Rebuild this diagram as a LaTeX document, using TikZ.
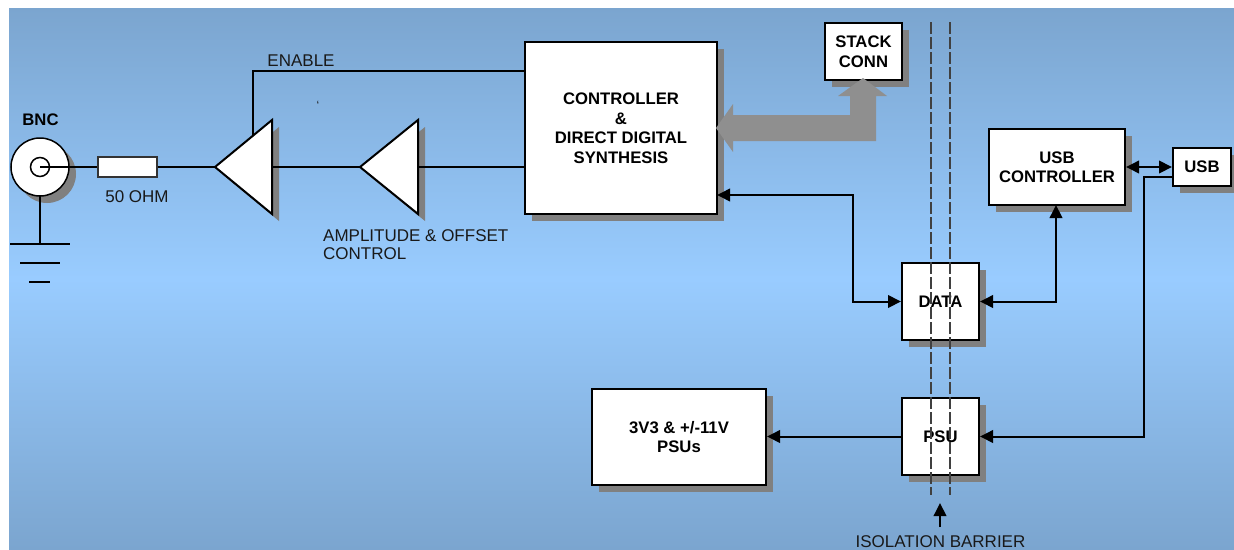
\documentclass[tikz,border=0pt]{standalone}
\usepackage{fontspec}
\setmainfont{Liberation Sans}
\usetikzlibrary{arrows.meta,shadows,calc}
\definecolor{bgedge}{HTML}{7BA5CF}
\definecolor{bgmid}{HTML}{99CCFF}
\definecolor{shadowgrey}{HTML}{808080}
\definecolor{busgrey}{HTML}{8F8F8F}
\tikzset{
  x=1pt,y=-1pt,
  box/.style={draw=black,line width=2pt,fill=white,align=center,inner sep=0pt,
    font=\fontsize{16.7}{19.5}\selectfont\bfseries,
    drop shadow={shadow xshift=7pt,shadow yshift=-7pt,fill=shadowgrey,opacity=1}},
  wire/.style={draw=black,line width=2pt},
  conn/.style={wire,-{Triangle[length=13pt,width=12.5pt]}},
  biconn/.style={wire,{Triangle[length=13pt,width=12.5pt]}-{Triangle[length=13pt,width=12.5pt]}},
  amp/.style={draw=black,line width=2pt,fill=white,line join=miter},
  ampshadow/.style={fill=shadowgrey,draw=none},
  lbl/.style={font=\fontsize{17}{18}\selectfont,inner sep=0pt,text=black!90},
  blbl/.style={font=\fontsize{16.7}{18}\selectfont\bfseries,inner sep=0pt},
  barrier/.style={draw=black!75,line width=1.2pt,dash pattern=on 12pt off 3pt},
  bus/.style={fill=busgrey,draw=none},
  gnd/.style={draw=black,line width=2pt}
}
\begin{document}
\begin{tikzpicture}
\useasboundingbox (0,0) rectangle (1234,549);
\clip (0,0) rectangle (1234,549);
\fill[white] (0,0) rectangle (1234,549);
\shade[top color=bgedge,bottom color=bgedge,middle color=bgmid,shading angle=0] (9,8) rectangle (1234,549);

% coordinates
\coordinate (bncc) at (40,167);
\coordinate (a1tip) at (215,167);
\coordinate (a1top) at (272,120);
\coordinate (a1bot) at (272,214);
\coordinate (a1out) at (272,167);
\coordinate (a2tip) at (360,167);
\coordinate (a2top) at (418,120);
\coordinate (a2bot) at (418,214);
\coordinate (a2out) at (418,167);
\coordinate (en) at (253,136);
\coordinate (enc) at (253,71);
\coordinate (ctrlen) at (525,71);
\coordinate (ctrlin) at (525,167);
\coordinate (ctrlbus) at (717,195);
\coordinate (gt) at (40,196);
\coordinate (g1) at (40,244);
\coordinate (g1l) at (10,244);
\coordinate (g1r) at (70,244);
\coordinate (g2l) at (20,263);
\coordinate (g2r) at (60,263);
\coordinate (g3l) at (29,282);
\coordinate (g3r) at (50,282);

% BNC
\fill[shadowgrey] (47,174) circle (29);
\node[draw=black,line width=1.5pt,fill=white,shape=circle,minimum size=58pt,inner sep=0pt] (bnc) at (bncc) {};
\node[draw=black,line width=1.5pt,shape=circle,minimum size=19pt,inner sep=0pt] (bnci) at (bncc) {};
\node[blbl] (bncl) at (40.5,119.5) {BNC};

% amplifier shadows and bodies
\fill[ampshadow] ($(a1tip)+(7,7)$) -- ($(a1top)+(7,7)$) -- ($(a1bot)+(7,7)$) -- cycle;
\fill[ampshadow] ($(a2tip)+(7,7)$) -- ($(a2top)+(7,7)$) -- ($(a2bot)+(7,7)$) -- cycle;

% boxes
\node[box,minimum width=192pt,minimum height=172pt] (ctrl) at (621,128) {CONTROLLER\\\&\\DIRECT DIGITAL\\SYNTHESIS};
\node[box,minimum width=77pt,minimum height=57pt] (stack) at (863.5,51.5) {STACK\\CONN};
\node[box,minimum width=136pt,minimum height=76pt] (usbc) at (1057,167) {USB\\CONTROLLER};
\node[box,minimum width=58pt,minimum height=38pt] (usb) at (1202,167) {USB};
\node[box,minimum width=77pt,minimum height=77pt] (data) at (940.5,301.5) {DATA};
\node[box,minimum width=77pt,minimum height=77pt] (psu) at (940.5,436.5) {PSU};
\node[box,minimum width=174pt,minimum height=96pt] (psus) at (679,437) {3V3 \& +/-11V\\PSUs};

% wires under amplifiers
\draw[wire] (bncc) -- (98,167) coordinate (ril);
\node[draw=black!80,line width=1.2pt,fill=white,minimum width=59pt,minimum height=20pt,inner sep=0pt] (res) at (127.5,167) {};
\draw[wire] (res.east) -- (a1tip);
\draw[wire] (a1out) -- (a2tip);
\draw[wire] (a2out) -- (ctrlin);
\draw[amp] (a1tip) -- (a1top) -- (a1bot) -- cycle;
\draw[amp] (a2tip) -- (a2top) -- (a2bot) -- cycle;
\draw[wire] (en) -- (enc) -- (ctrlen);

% ground
\draw[gnd] (gt) -- (g1);
\draw[gnd] (g1l) -- (g1r);
\draw[gnd] (g2l) -- (g2r);
\draw[gnd] (g3l) -- (g3r);

% buses
\fill[bus] (716,128) -- (733,104) -- (733,115) -- (850,115) -- (850,96) -- (838,96) -- (863,78) -- (887,96) -- (876,96) -- (876,141) -- (733,141) -- (733,152) -- cycle;

% connectors
\coordinate (u1) at (1173,177);
\coordinate (ub) at (1144,177);
\coordinate (uc) at (1144,436.5);
\coordinate (dm) at (853,195);
\coordinate (dn) at (853,301.5);
\coordinate (um) at (1056,301.5);
\coordinate (us) at (1056,205);
\draw[biconn] (ctrlbus) -- (dm) -- (dn) -- (data.west);
\draw[biconn] (data.east) -- (um) -- (us);
\draw[biconn] (usbc.east) -- (usb.west);
\draw[conn] (u1) -- (ub) -- (uc) -- (psu.east);
\draw[conn] (psu.west) -- (psu.west -| psus.east);

% barrier
\coordinate (b1t) at (931,22);
\coordinate (b1b) at (931,495);
\coordinate (b2t) at (950,22);
\coordinate (b2b) at (950,495);
\draw[barrier] (b1t) -- (b1b);
\draw[barrier] (b2t) -- (b2b);
\coordinate (ib) at (940,527);
\coordinate (it) at (940,503);
\draw[conn] (ib) -- (it);

% labels
\node[lbl] (enl) at (301,61) {ENABLE};
\node[lbl] (ohm) at (137,196.5) {50 OHM};
\node[lbl,anchor=north west,align=left] (ampl) at (323,229) {AMPLITUDE \& OFFSET\\CONTROL};
\node[lbl] (iso) at (940.5,541.5) {ISOLATION BARRIER};
\node[lbl,font=\fontsize{12}{12}\selectfont] (tick) at (318,105) {`};
\end{tikzpicture}
\end{document}
